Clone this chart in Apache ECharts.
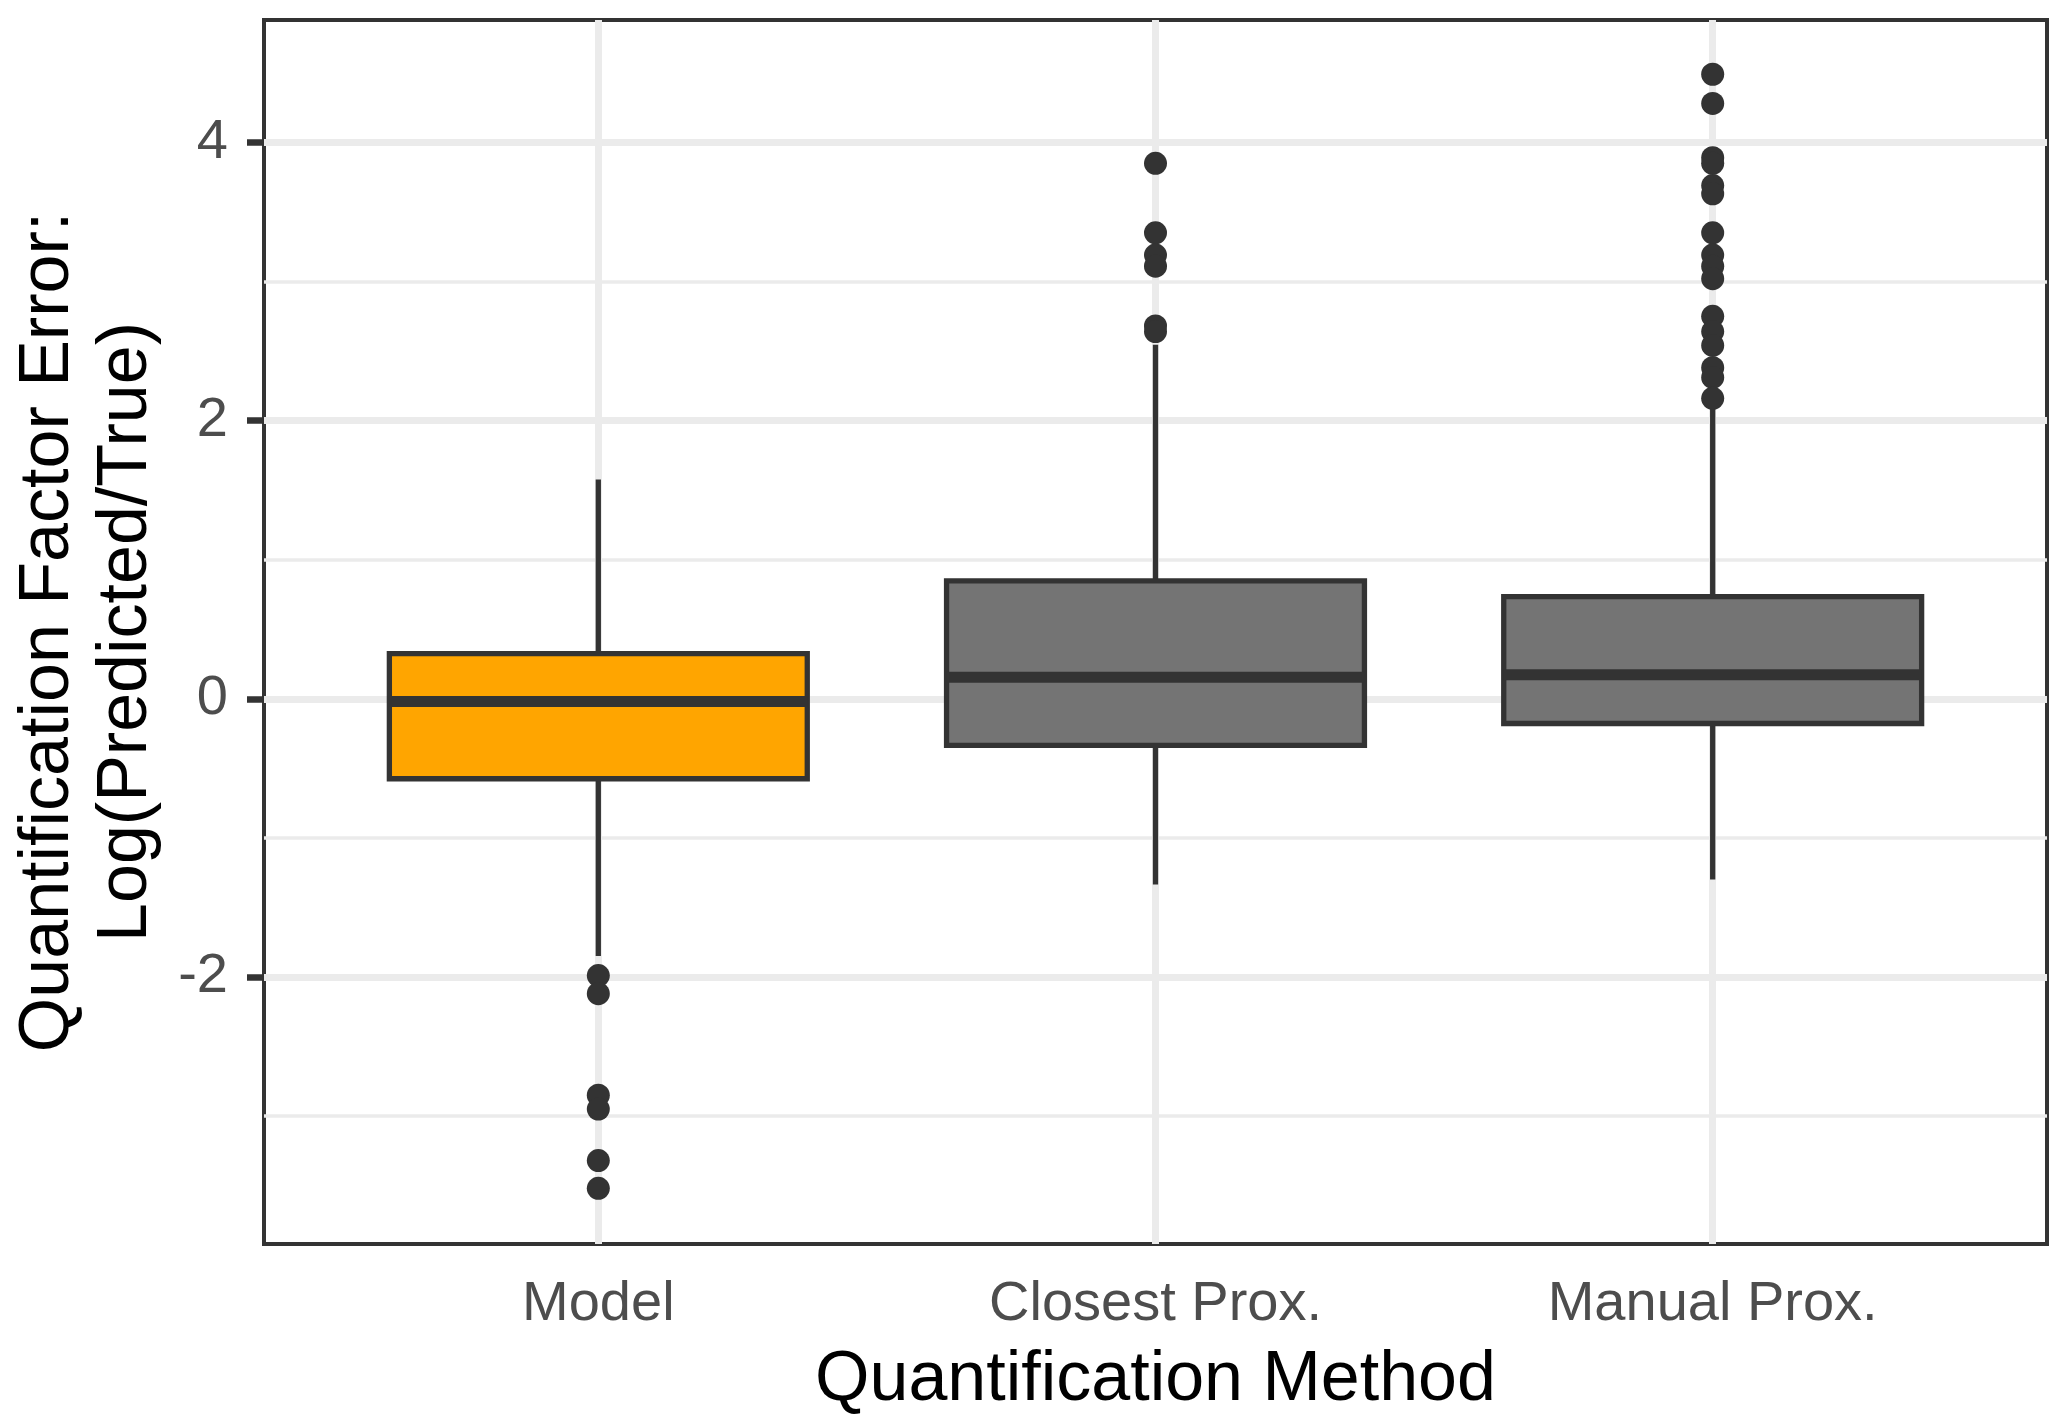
<!DOCTYPE html>
<html><head><meta charset="utf-8">
<script src="https://cdn.jsdelivr.net/npm/echarts@6/dist/echarts.min.js"></script>
<style>html,body{margin:0;padding:0;background:#fff}#c{width:2067px;height:1423px}</style>
</head><body><div id="c"></div>
<script>
// ---- data ----
const categories = ['Model', 'Closest Prox.', 'Manual Prox.'];
const whiskerLow  = [-1.85, -1.335, -1.30];
const q1          = [-0.575, -0.335, -0.178];
const median      = [-0.02, 0.155, 0.172];
const q3          = [0.325, 0.848, 0.734];
const whiskerHigh = [1.577, 2.545, 2.12];
const modelOutliers   = [-1.99, -2.12, -2.85, -2.95, -3.32, -3.52];
const closestOutliers = [3.85, 3.35, 3.19, 3.11, 2.68, 2.64];
const manualOutliers  = [4.49, 4.28, 3.89, 3.85, 3.69, 3.63, 3.35, 3.19, 3.11, 3.02, 2.75, 2.64, 2.54, 2.38, 2.31, 2.16];
const xTicks = [1, 2, 3];
const yMajorTicks = [-2, 0, 2, 4];
const yMinorTicks = [-3, -1, 1, 3];
const yRange = [-3.92, 4.88];
const xRange = [0.4, 3.6];

// ---- styles ----
const boxColors = ['#FFA500', '#747474', '#747474'];
const FONT = '"Liberation Sans", Arial, Helvetica, sans-serif';
const DARK = '#333333';

const boxData = categories.map((c, i) => [i + 1, whiskerLow[i], q1[i], median[i], q3[i], whiskerHigh[i]]);
const outlierData = [];
[modelOutliers, closestOutliers, manualOutliers].forEach((arr, i) => arr.forEach(v => outlierData.push([i + 1, v])));

const chart = echarts.init(document.getElementById('c'), null, { renderer: 'canvas' });
chart.setOption({
  animation: false,
  backgroundColor: '#ffffff',
  grid: { left: 264, top: 20, width: 1783, height: 1224, show: true, borderColor: DARK, borderWidth: 4, backgroundColor: '#ffffff' },
  xAxis: {
    type: 'value', min: xRange[0], max: xRange[1],
    name: 'Quantification Method', nameLocation: 'middle', nameGap: 102,
    nameTextStyle: { fontFamily: FONT, fontSize: 70, color: '#000000' },
    axisLine: { show: false },
    axisTick: { show: true, customValues: xTicks, length: 17, lineStyle: { color: DARK, width: 6.5 } },
    axisLabel: { customValues: xTicks, formatter: v => categories[Math.round(v) - 1] || '', fontFamily: FONT, fontSize: 56, color: '#4D4D4D', margin: 33 },
    splitLine: { show: true, lineStyle: { color: '#EBEBEB', width: 7 } }
  },
  yAxis: [{
    type: 'value', min: yRange[0], max: yRange[1],
    name: 'Quantification Factor Error:\nLog(Predicted/True)', nameLocation: 'middle', nameRotate: 90, nameGap: 98,
    nameTextStyle: { fontFamily: FONT, fontSize: 70, color: '#000000', lineHeight: 78, align: 'center' },
    axisLine: { show: false },
    axisTick: { show: true, customValues: yMajorTicks, length: 17, lineStyle: { color: DARK, width: 6.5 } },
    axisLabel: { customValues: yMajorTicks, fontFamily: FONT, fontSize: 56, color: '#4D4D4D', margin: 36 },
    splitLine: { show: true, lineStyle: { color: '#EBEBEB', width: 7 } }
  }, {
    type: 'value', min: yRange[0], max: yRange[1], position: 'left',
    axisLine: { show: false },
    axisTick: { show: false, customValues: yMinorTicks },
    axisLabel: { show: false, customValues: yMinorTicks },
    splitLine: { show: true, lineStyle: { color: '#EBEBEB', width: 3.5 } }
  }],
  series: [{
    type: 'custom',
    data: boxData,
    encode: { x: 0, y: [1, 2, 3, 4, 5] },
    z: 3,
    renderItem: (params, api) => {
      const x = api.value(0);
      const lo = api.coord([x, api.value(1)]);
      const b = api.coord([x, api.value(2)]);
      const m = api.coord([x, api.value(3)]);
      const t = api.coord([x, api.value(4)]);
      const hi = api.coord([x, api.value(5)]);
      const w = api.size([0.75, 0])[0];
      return {
        type: 'group', children: [
          { type: 'line', shape: { x1: lo[0], y1: lo[1], x2: b[0], y2: b[1] }, style: { stroke: DARK, lineWidth: 5.3 } },
          { type: 'line', shape: { x1: t[0], y1: t[1], x2: hi[0], y2: hi[1] }, style: { stroke: DARK, lineWidth: 5.3 } },
          { type: 'rect', shape: { x: b[0] - w / 2, y: t[1], width: w, height: b[1] - t[1] }, style: { fill: boxColors[params.dataIndex], stroke: DARK, lineWidth: 5.3 } },
          { type: 'line', shape: { x1: m[0] - w / 2, y1: m[1], x2: m[0] + w / 2, y2: m[1] }, style: { stroke: DARK, lineWidth: 11 } }
        ]
      };
    }
  }, {
    type: 'scatter',
    data: outlierData,
    symbol: 'circle', symbolSize: 23,
    itemStyle: { color: DARK, opacity: 1 },
    z: 4
  }]
});
</script></body></html>
